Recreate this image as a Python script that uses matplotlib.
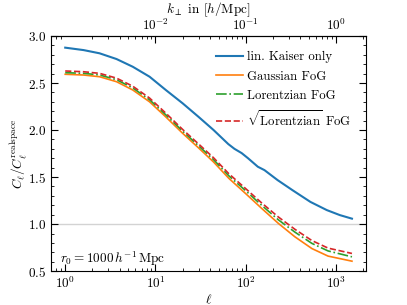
import numpy as np
import matplotlib
matplotlib.use("Agg")
import matplotlib.pyplot as plt
from matplotlib.ticker import MultipleLocator, FixedLocator

plt.rcParams["font.family"] = "serif"
plt.rcParams["font.serif"] = ["cmr10"]
plt.rcParams["mathtext.fontset"] = "cm"
plt.rcParams["axes.formatter.use_mathtext"] = True
plt.rcParams["font.size"] = 9.5

# multipoles and C_l ratios
ell = [1, 1.6, 2.4, 3.7, 5.6, 8.6, 13, 20, 30, 44, 64, 75, 90, 106, 136,
       161, 225, 330, 520, 790, 1100, 1500]
kaiser = [2.876, 2.85, 2.816, 2.755, 2.673, 2.567, 2.426, 2.284, 2.14, 2.0,
          1.851, 1.80, 1.755, 1.70, 1.61, 1.574, 1.468, 1.36, 1.236, 1.149,
          1.096, 1.058]

ell_fog = [1, 1.6, 2.4, 3.7, 5.6, 8.6, 13, 20, 30, 44, 65, 99, 150, 230,
           350, 540, 815, 1500]
gauss = [2.593, 2.585, 2.567, 2.514, 2.426, 2.30, 2.14, 1.965, 1.81, 1.66,
         1.486, 1.327, 1.167, 1.007, 0.865, 0.74, 0.66, 0.606]
lorentz = [2.61, 2.603, 2.586, 2.535, 2.448, 2.322, 2.162, 1.988, 1.833,
           1.685, 1.513, 1.358, 1.2, 1.045, 0.915, 0.795, 0.715, 0.652]
sqrt_lorentz = [2.628, 2.62, 2.603, 2.552, 2.466, 2.34, 2.18, 2.006, 1.852,
                1.705, 1.535, 1.38, 1.225, 1.075, 0.945, 0.825, 0.745, 0.688]

r0 = 1000.0
k_ticks = [1e-2, 1e-1, 1e0]

fig = plt.figure(figsize=(4.07, 3.05), dpi=100)
ax = fig.add_axes([0.125, 0.111, 0.775, 0.771])

ax.axhline(1.0, color="lightgray", lw=1.0, zorder=0)
ax.plot(ell, kaiser, color="C0", lw=1.5, label="lin. Kaiser only")
ax.plot(ell_fog, gauss, color="C1", lw=1.2, ls="-", label="Gaussian FoG")
ax.plot(ell_fog, lorentz, color="C2", lw=1.2, ls="-.", label="Lorentzian FoG")
ax.plot(ell_fog, sqrt_lorentz, color="C3", lw=1.2, ls="--",
        label=r"$\sqrt{\mathrm{Lorentzian}}$ FoG")

ax.set_xscale("log")
ax.set_ylim(0.5, 3.0)
ax.set_yticks([0.5, 1.0, 1.5, 2.0, 2.5, 3.0])
ax.yaxis.set_minor_locator(MultipleLocator(0.1))
ax.tick_params(which="both", direction="in", right=True)
ax.tick_params(which="major", length=5)
ax.tick_params(which="minor", length=2.5)

ax.set_xlabel(r"$\ell$", labelpad=1)
ax.set_ylabel(r"$C_\ell/C_\ell^{\mathrm{realspace}}$", labelpad=-1)

top = ax.secondary_xaxis("top", functions=(lambda x: x / r0, lambda k: k * r0))
top.xaxis.set_major_locator(FixedLocator(k_ticks))
top.tick_params(which="both", direction="in")
top.tick_params(which="major", length=5, pad=2.5)
top.tick_params(which="minor", length=2.5)
top.set_xlabel(r"$k_\perp$ in $[h/\mathrm{Mpc}]$", labelpad=2.5)

ax.text(0.03, 0.035, r"$r_0 = 1000\,h^{-1}\,\mathrm{Mpc}$", transform=ax.transAxes)

ax.legend(loc="upper right", frameon=False, fontsize=9.2, handlelength=2.1,
          handletextpad=0.3, labelspacing=0.55, borderaxespad=0.8)

fig.savefig("out.png", dpi=100)
